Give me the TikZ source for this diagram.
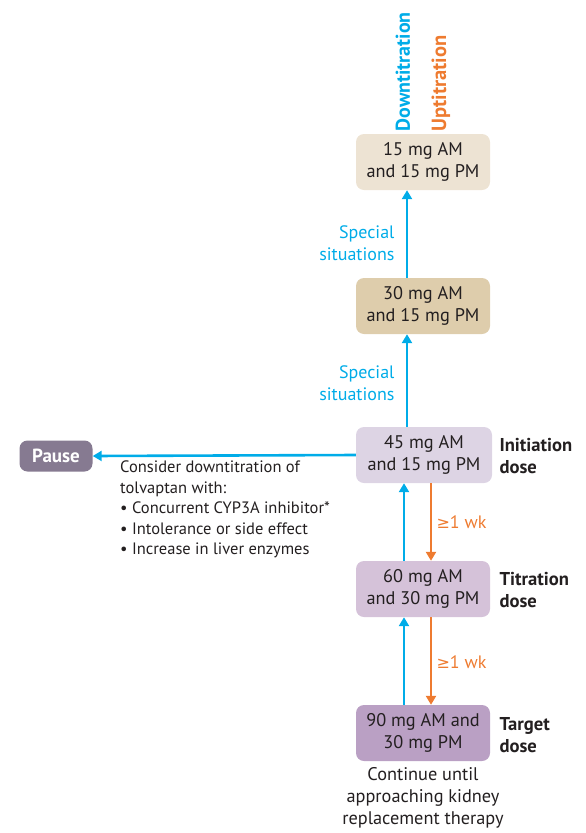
\documentclass[tikz,border=0pt]{standalone}
\usepackage{fontspec}
\setmainfont{PT Sans}
\newfontfamily\symf{DejaVu Sans}
\usetikzlibrary{arrows.meta}
\definecolor{cblue}{RGB}{0,172,232}
\definecolor{corange}{RGB}{238,123,48}
\definecolor{ctext}{RGB}{35,31,32}
\definecolor{cbeigeA}{RGB}{237,227,211}
\definecolor{cbeigeB}{RGB}{222,205,172}
\definecolor{clavA}{RGB}{221,212,228}
\definecolor{clavB}{RGB}{213,194,217}
\definecolor{clavC}{RGB}{186,160,196}
\definecolor{cpause}{RGB}{134,122,145}
\begin{document}
\begin{tikzpicture}[x=1pt,y=-1pt,
  dosebox/.style={rounded corners=8pt, minimum width=134pt, minimum height=56pt,
    align=center, font=\fontsize{18.3}{21.5}\selectfont, text=ctext, inner sep=1pt},
  sidelabel/.style={anchor=west, align=left, font=\fontsize{18.6}{22}\selectfont\bfseries, text=ctext},
  bluearrow/.style={draw=cblue, line width=2.6pt, -{Triangle[width=10pt,length=9pt]}},
  orangearrow/.style={draw=corange, line width=2.6pt, -{Triangle[width=10pt,length=9pt]}},
  bluelabel/.style={text=cblue, align=right, font=\fontsize{18}{22}\selectfont},
  orangelabel/.style={text=corange, anchor=west, font=\fontsize{18}{22}\selectfont}
]
\useasboundingbox (0,0) rectangle (586,833);

\node[rotate=90, anchor=west, text=cblue, font=\fontsize{20}{22}\selectfont\bfseries] (down) at (403,135) {Downtitration};
\node[rotate=90, anchor=west, text=corange, font=\fontsize{20.5}{22}\selectfont\bfseries] (up) at (441,135) {Uptitration};

\node[dosebox, fill=cbeigeA] (b1) at (423,162) {15 mg AM\\and 15 mg PM};
\node[dosebox, fill=cbeigeB] (b2) at (423,306) {30 mg AM\\and 15 mg PM};
\node[dosebox, fill=clavA, minimum width=136pt] (b3) at (424,455) {45 mg AM\\and 15 mg PM};
\node[dosebox, fill=clavB] (b4) at (423,589) {60 mg AM\\and 30 mg PM};
\node[dosebox, fill=clavC] (b5) at (423,733) {90 mg AM and\\30 mg PM};

\node[rounded corners=8pt, fill=cpause, minimum width=73pt, minimum height=31pt,
  text=white, font=\fontsize{19}{20}\selectfont\bfseries, inner sep=1pt] (pause) at (56,456) {Pause};

\node[sidelabel] (l3) at (496,456) {Initiation\\dose};
\node[sidelabel] (l4) at (496,590) {Titration\\dose};
\node[sidelabel] (l5) at (496,735) {Target\\dose};

\draw[bluearrow] ([xshift=-17pt]b3.north) -- ([xshift=-16pt]b2.south);
\draw[bluearrow] ([xshift=-16pt]b2.north) -- ([xshift=-16pt]b1.south);
\node[bluelabel, anchor=east] (s1) at (398,243) {Special\\situations};
\node[bluelabel, anchor=east] (s2) at (398,383) {Special\\situations};

\draw[bluearrow] (b3.west) -- (pause.east);

\draw[bluearrow] ([xshift=-19pt]b4.north) -- ([xshift=-20pt]b3.south);
\draw[orangearrow] ([xshift=7pt]b3.south) -- ([xshift=8pt]b4.north);
\node[orangelabel] (w1) at (433,522) {{\symf\fontsize{16}{18}\selectfont ≥}1 wk};

\draw[bluearrow] ([xshift=-19pt]b5.north) -- ([xshift=-19pt]b4.south);
\draw[orangearrow] ([xshift=8pt]b4.south) -- ([xshift=8pt]b5.north);
\node[orangelabel] (w2) at (433,662) {{\symf\fontsize{16}{18}\selectfont ≥}1 wk};

\node[anchor=north west, align=left, text=ctext, font=\fontsize{16.5}{20.5}\selectfont, inner sep=0pt] (note) at (120,461)
  {Consider downtitration of\\tolvaptan with:\\• Concurrent CYP3A inhibitor*\\• Intolerance or side effect\\• Increase in liver enzymes};

\node[anchor=north, align=center, text=ctext, font=\fontsize{18.3}{22}\selectfont, inner sep=0pt] (cont) at (423,767)
  {Continue until\\approaching kidney\\replacement therapy};
\end{tikzpicture}
\end{document}
